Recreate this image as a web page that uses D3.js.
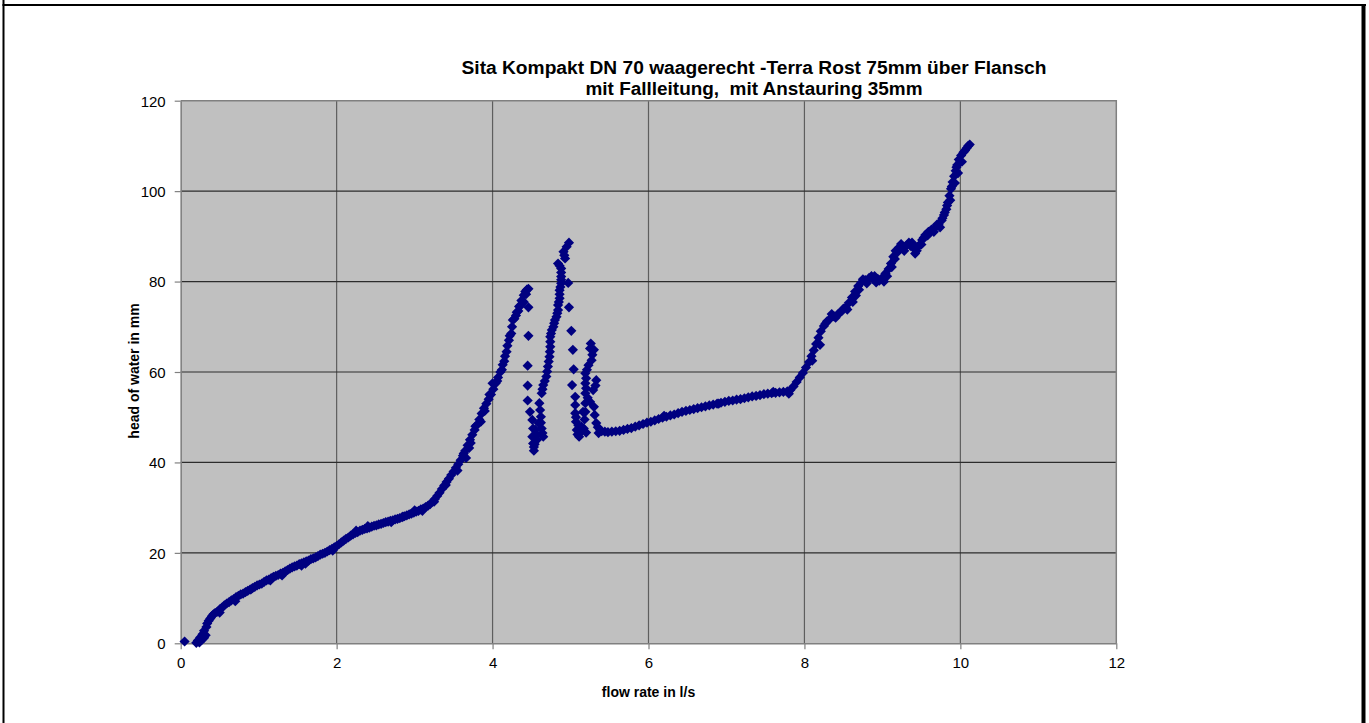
<!DOCTYPE html>
<html>
<head>
<meta charset="utf-8">
<script src="https://cdn.jsdelivr.net/npm/d3@7"></script>
<style>
  body { margin: 0; background: #fff; }
  text { font-family: "Liberation Sans", Arial, sans-serif; }
</style>
</head>
<body>
<div id="chart"></div>
<script>
var svgWidth = 1369;
var svgHeight = 723;

// Title lines and axis titles
var titleLines = ["Sita Kompakt DN 70 waagerecht -Terra Rost 75mm über Flansch",
                  "mit Fallleitung,  mit Anstauring 35mm"];
var xTitle = "flow rate in l/s";
var yTitle = "head of water in mm";
var xTicks = [0, 2, 4, 6, 8, 10, 12];
var yTicks = [0, 20, 40, 60, 80, 100, 120];

var flow = [
  0.05, 0.20, 0.22, 0.24, 0.25, 0.27, 0.28, 0.30, 0.30, 0.32, 0.33, 0.34, 0.36, 0.38, 0.40, 0.42, 0.44, 0.47, 0.50, 0.53,
  0.56, 0.59, 0.62, 0.65, 0.68, 0.71, 0.74, 0.77, 0.80, 0.83, 0.86, 0.89, 0.92, 0.95, 0.98, 1.01, 1.04, 1.07, 1.10, 1.13,
  1.16, 1.19, 1.22, 1.25, 1.28, 1.31, 1.34, 1.37, 1.40, 1.43, 1.46, 1.49, 1.52, 1.55, 1.58, 1.61, 1.64, 1.67, 1.70, 1.73,
  1.76, 1.79, 1.82, 1.85, 1.88, 1.91, 1.94, 1.97, 2.00, 2.03, 2.06, 2.09, 2.12, 2.15, 2.18, 2.21, 2.24, 2.27, 2.30, 2.33,
  2.36, 2.39, 2.42, 2.45, 2.48, 2.51, 2.54, 2.57, 2.60, 2.63, 2.66, 2.69, 2.72, 2.75, 2.78, 2.81, 2.84, 2.87, 2.90, 2.93,
  2.96, 2.99, 3.02, 3.05, 3.08, 3.11, 3.14, 3.17, 3.20, 3.23, 3.26, 3.29, 3.32, 3.35, 3.38, 3.41, 3.44, 3.47, 3.50, 3.53,
  3.56, 3.59, 3.62, 3.65, 3.68, 3.71, 3.74, 3.77, 3.80, 3.83, 3.86, 3.89, 3.92, 3.95, 3.98, 4.01, 4.04, 4.07, 4.10, 4.13,
  4.16, 4.19, 4.22, 4.25, 4.28, 4.31, 4.34, 4.37, 4.40, 4.42, 4.44, 4.46,
  3.66, 3.70, 3.85, 4.00, 4.12, 4.18, 4.26, 4.33, 4.40, 0.90, 1.30, 1.60, 2.25, 2.85, 3.10,
  0.50, 0.70, 1.15, 1.55, 1.95, 2.40, 2.70, 3.00, 3.25, 3.40,
  3.55, 3.63, 3.72, 3.78, 3.90, 3.96, 4.06, 4.15, 4.21, 4.24, 4.30, 4.36, 4.43,
  4.46, 4.46, 4.45, 4.45, 4.45, 4.48, 4.51, 4.52, 4.51, 4.52, 4.53, 4.53, 4.57, 4.55, 4.59, 4.56, 4.54,
  4.65, 4.63, 4.62, 4.60, 4.63, 4.65, 4.69, 4.71, 4.73, 4.74, 4.74, 4.76, 4.79, 4.82, 4.84, 4.84, 4.86, 4.86, 4.88, 4.88,
  4.88, 4.84, 4.93, 4.91, 4.95, 4.98,
  4.61, 4.62, 4.64, 4.64, 4.67, 4.70, 4.72, 4.735, 4.74, 4.75, 4.78, 4.80, 4.83, 4.85, 4.86, 4.87, 4.88, 4.88, 4.86, 4.92,
  4.97, 4.98, 5.01, 5.03, 5.04, 5.02, 5.06, 5.06, 5.06, 5.07, 5.08, 5.11, 5.14, 5.16, 5.09, 5.12, 5.10, 5.07,
  5.19, 5.19, 5.19, 5.19, 5.23, 5.27, 5.30, 5.26, 5.33, 5.29, 5.25, 5.19, 5.30, 5.31, 5.33, 5.38, 5.44, 5.53, 5.18, 5.17,
  5.20, 5.28, 5.25, 5.21, 5.20, 5.20, 5.22, 5.32, 5.35, 5.36, 5.40,
  5.48, 5.58, 5.63, 5.68, 5.73, 5.78, 5.83, 5.88, 5.93, 5.98, 6.03, 6.08, 6.13, 6.18, 6.23, 6.28, 6.33, 6.38, 6.43, 6.48,
  6.53, 6.58, 6.63, 6.68, 6.73, 6.78, 6.83, 6.88, 6.93, 6.98, 7.03, 7.08, 7.13, 7.18, 7.23, 7.28, 7.33, 7.38, 7.43, 7.48,
  7.53, 7.58, 7.63, 7.68, 7.73, 7.78, 7.82, 7.86, 7.90, 7.94, 7.98, 8.02, 8.06, 8.09, 8.12, 8.15, 8.18, 8.21, 8.25, 8.29,
  8.33, 8.38, 8.43, 8.48, 8.53, 8.57, 8.61, 8.65, 8.69, 8.73, 8.78, 8.83, 8.88, 8.92, 8.96, 9.00, 9.04, 9.08, 9.11, 9.14,
  9.17, 9.21, 9.26, 9.31, 9.36, 9.40, 9.44, 9.47, 9.51, 9.55, 9.59, 9.63, 9.68, 9.72, 9.76, 9.79, 9.82, 9.84, 9.86, 9.88,
  9.90, 9.92, 9.94, 9.96, 9.98, 10.01, 10.04, 10.08, 10.12,
  8.10, 8.20, 8.35, 8.45, 8.55, 8.62, 8.70, 8.80, 8.90, 9.02, 9.12, 9.20, 9.28, 9.34, 9.42, 9.50, 9.58, 9.66, 9.74, 9.80,
  9.87, 9.93, 9.97, 10.02, 10.06, 6.20, 6.90, 7.60, 7.80,
  8.27, 8.40, 8.50, 8.66, 8.75, 8.86, 8.94, 9.06, 9.16, 9.24, 9.38, 9.45, 9.53, 9.62, 9.70, 9.77, 9.83, 9.89, 9.95, 10.00,
  10.10
];
var head = [
  0.4, 0.1, 0.6, 0.2, 1.3, 0.8, 2.0, 1.2, 2.8, 1.8, 3.6, 4.4, 5.0, 5.5, 6.0, 6.4, 6.7, 7.0, 7.5, 7.9,
  8.4, 8.8, 9.1, 9.5, 9.8, 10.2, 10.5, 10.8, 11.0, 11.3, 11.6, 11.9, 12.2, 12.5, 12.8, 13.0, 13.2, 13.6, 13.9, 14.1,
  14.4, 14.7, 14.9, 15.1, 15.4, 15.6, 15.9, 16.2, 16.5, 16.8, 17.0, 17.2, 17.5, 17.7, 17.9, 18.1, 18.3, 18.6, 18.8, 19.0,
  19.3, 19.6, 19.8, 20.0, 20.3, 20.6, 20.9, 21.2, 21.5, 21.9, 22.3, 22.7, 23.1, 23.4, 23.8, 24.1, 24.4, 24.6, 24.9, 25.1,
  25.3, 25.4, 25.6, 25.8, 26.0, 26.1, 26.3, 26.4, 26.6, 26.8, 26.9, 27.1, 27.2, 27.4, 27.5, 27.7, 27.9, 28.1, 28.3, 28.5,
  28.7, 28.9, 29.1, 29.3, 29.6, 29.8, 30.1, 30.4, 30.8, 31.3, 31.9, 32.6, 33.3, 34.1, 34.9, 35.7, 36.4, 37.2, 38.0, 38.8,
  39.6, 40.5, 41.5, 42.6, 43.8, 45.0, 46.1, 47.2, 48.3, 49.5, 50.8, 52.0, 53.0, 54.0, 55.0, 56.2, 57.5, 58.8, 60.0, 61.6,
  63.5, 65.8, 68.0, 70.0, 71.8, 73.2, 74.5, 75.8, 77.0, 77.8, 78.2, 78.4,
  41.0, 43.2, 49.0, 57.5, 60.5, 64.5, 71.5, 73.5, 75.5, 11.9, 15.0, 17.6, 24.9, 28.0, 29.3,
  6.8, 9.3, 13.9, 17.2, 20.5, 25.9, 26.8, 29.4, 31.3, 35.0,
  38.2, 42.0, 44.3, 48.0, 51.4, 55.0, 58.0, 62.4, 67.0, 68.5, 72.5, 74.7, 77.2,
  74.3, 68.0, 61.4, 57.0, 53.7, 51.2, 49.4, 47.5, 45.7, 44.2, 42.6, 43.4, 45.0, 47.2, 48.7, 46.2, 44.0,
  45.7, 47.5, 50.1, 53.1, 55.3, 57.1, 59.0, 61.2, 63.4, 65.6, 67.8, 69.3, 70.8, 72.2, 73.7, 74.8, 76.3, 78.1, 79.6, 81.1,
  82.9, 84.0, 85.1, 86.6, 87.7, 88.6,
  51.6, 48.8, 46.5, 56.2, 58.0, 60.1, 62.3, 64.5, 66.7, 68.5, 70.0, 71.5, 73.0, 75.5, 77.2, 78.8, 80.4, 82.0, 83.5, 85.8,
  79.7, 74.3, 69.1, 64.9, 60.6, 57.1, 54.5, 52.7, 50.9, 49.0, 47.2, 45.7, 47.9, 51.2, 46.2, 46.5, 48.2, 50.0,
  53.1, 55.3, 57.5, 59.7, 61.5, 62.6, 64.9, 66.3, 58.2, 56.0, 53.4, 51.2, 52.3, 50.5, 48.7, 47.2, 46.8, 46.8, 49.5, 47.5,
  46.6, 63.8, 65.2, 60.5, 58.6, 56.4, 54.3, 57.0, 47.8, 46.5, 46.9,
  46.7, 46.9, 47.0, 47.2, 47.4, 47.6, 47.9, 48.2, 48.5, 48.8, 49.0, 49.3, 49.6, 49.9, 50.1, 50.4, 50.6, 50.9, 51.2, 51.4,
  51.6, 51.8, 52.0, 52.2, 52.4, 52.6, 52.8, 53.0, 53.2, 53.4, 53.6, 53.7, 53.9, 54.0, 54.2, 54.4, 54.6, 54.7, 54.9, 55.1,
  55.2, 55.3, 55.4, 55.5, 55.6, 55.7, 56.0, 56.8, 57.8, 58.8, 59.8, 61.0, 62.2, 63.5, 64.8, 66.2, 67.6, 69.0, 70.2, 71.2,
  71.8, 72.3, 72.8, 73.5, 74.3, 75.3, 76.5, 77.8, 79.0, 79.8, 80.3, 80.8, 80.6, 79.8, 80.2, 80.9, 81.8, 82.8, 84.0, 85.5,
  86.8, 87.5, 87.8, 88.0, 87.9, 87.4, 86.8, 88.0, 89.2, 90.3, 91.0, 91.5, 92.0, 92.6, 93.5, 94.7, 96.0, 97.5, 99.0, 100.5,
  102.0, 103.3, 104.5, 105.8, 107.0, 107.9, 108.6, 109.5, 110.3,
  62.5, 66.0, 72.8, 73.0, 73.8, 75.5, 78.2, 79.6, 81.2, 80.0, 83.2, 86.6, 86.8, 88.6, 86.2, 88.2, 90.2, 91.0, 92.0, 95.3,
  98.0, 101.8, 104.0, 106.5, 109.0, 50.3, 53.0, 55.6, 55.2,
  70.7, 72.0, 74.0, 76.9, 80.5, 81.2, 80.6, 81.2, 85.0, 88.3, 88.6, 87.6, 89.7, 91.2, 92.6, 94.0, 96.8, 101.0, 105.3, 106.5,
  110.0
];

var margin = { top: 100.7, right: 252.7, bottom: 79.7, left: 180.7 };
var width = svgWidth - margin.left - margin.right;
var height = svgHeight - margin.top - margin.bottom;

var svg = d3.select("#chart")
  .append("svg")
  .attr("width", svgWidth)
  .attr("height", svgHeight);

// outer frame
svg.append("line").attr("x1", 3.5).attr("x2", 3.5).attr("y1", 0).attr("y2", svgHeight)
  .attr("stroke", "#000").attr("stroke-width", 2);
svg.append("line").attr("x1", 2.5).attr("x2", 1366).attr("y1", 5).attr("y2", 5)
  .attr("stroke", "#000").attr("stroke-width", 2);
svg.append("line").attr("x1", 1363.5).attr("x2", 1363.5).attr("y1", 4).attr("y2", svgHeight)
  .attr("stroke", "#000").attr("stroke-width", 4);

var chartGroup = svg.append("g")
  .attr("transform", `translate(${margin.left}, ${margin.top})`);

var xScale = d3.scaleLinear().domain([0, 12]).range([0, width]);
var yScale = d3.scaleLinear().domain([0, 120]).range([height, 0]);

// plot background
chartGroup.append("rect")
  .attr("width", width)
  .attr("height", height)
  .attr("fill", "#c0c0c0");

// gridlines
chartGroup.append("g")
  .selectAll("line")
  .data(xTicks.slice(1, -1))
  .enter()
  .append("line")
  .attr("x1", d => xScale(d)).attr("x2", d => xScale(d))
  .attr("y1", 0).attr("y2", height)
  .attr("stroke", "#5e5e5e").attr("stroke-width", 1.2);

chartGroup.append("g")
  .selectAll("line")
  .data(yTicks.slice(1, -1))
  .enter()
  .append("line")
  .attr("x1", 0).attr("x2", width)
  .attr("y1", d => yScale(d)).attr("y2", d => yScale(d))
  .attr("stroke", "#2c2c2c").attr("stroke-width", 1.2);

// plot border (top, right)
chartGroup.append("path")
  .attr("d", `M0,0H${width}V${height}`)
  .attr("fill", "none")
  .attr("stroke", "#808080")
  .attr("stroke-width", 1.5);

// axes
var bottomAxis = d3.axisBottom(xScale).tickValues(xTicks).tickSize(6).tickPadding(8).tickSizeOuter(0);
var leftAxis = d3.axisLeft(yScale).tickValues(yTicks).tickSize(6).tickPadding(9).tickSizeOuter(0);

var xAxisG = chartGroup.append("g")
  .attr("transform", `translate(0, ${height})`)
  .call(bottomAxis);
var yAxisG = chartGroup.append("g")
  .call(leftAxis);

[xAxisG, yAxisG].forEach(function(g) {
  g.select(".domain").attr("stroke", "#808080").attr("stroke-width", 1.5);
  g.selectAll(".tick line").attr("stroke", "#808080").attr("stroke-width", 1.2);
  g.selectAll(".tick text")
    .attr("fill", "#000")
    .style("font-size", "15px")
    .style("font-family", "'Liberation Sans', Arial, sans-serif");
});
yAxisG.selectAll(".tick text").attr("dy", "0.36em");

// data points (rotated squares)
var points = d3.range(flow.length).map(i => ({ x: flow[i], y: head[i] }));
var marker = d3.symbol().type(d3.symbolSquare).size(52);

chartGroup.append("g")
  .selectAll("path")
  .data(points)
  .enter()
  .append("path")
  .attr("d", marker)
  .attr("transform", d => `translate(${xScale(d.x)}, ${yScale(d.y)}) rotate(45)`)
  .attr("fill", "#000080");

// title
svg.append("text")
  .attr("x", 754).attr("y", 74)
  .attr("text-anchor", "middle")
  .attr("font-weight", "bold")
  .style("font-size", "18px")
  .attr("textLength", 585)
  .attr("lengthAdjust", "spacingAndGlyphs")
  .text(titleLines[0]);
svg.append("text")
  .attr("x", 754).attr("y", 95)
  .attr("text-anchor", "middle")
  .attr("font-weight", "bold")
  .style("font-size", "18px")
  .style("white-space", "pre")
  .attr("textLength", 337)
  .attr("lengthAdjust", "spacingAndGlyphs")
  .text(titleLines[1]);

// axis titles
chartGroup.append("text")
  .attr("transform", "rotate(-90)")
  .attr("x", 0 - (height / 2) + 1)
  .attr("y", 0 - margin.left + 139)
  .attr("text-anchor", "middle")
  .attr("font-weight", "bold")
  .style("font-size", "14px")
  .text(yTitle);

chartGroup.append("text")
  .attr("transform", `translate(${width / 2}, ${height + 54})`)
  .attr("text-anchor", "middle")
  .attr("font-weight", "bold")
  .style("font-size", "14px")
  .text(xTitle);
</script>
</body>
</html>
